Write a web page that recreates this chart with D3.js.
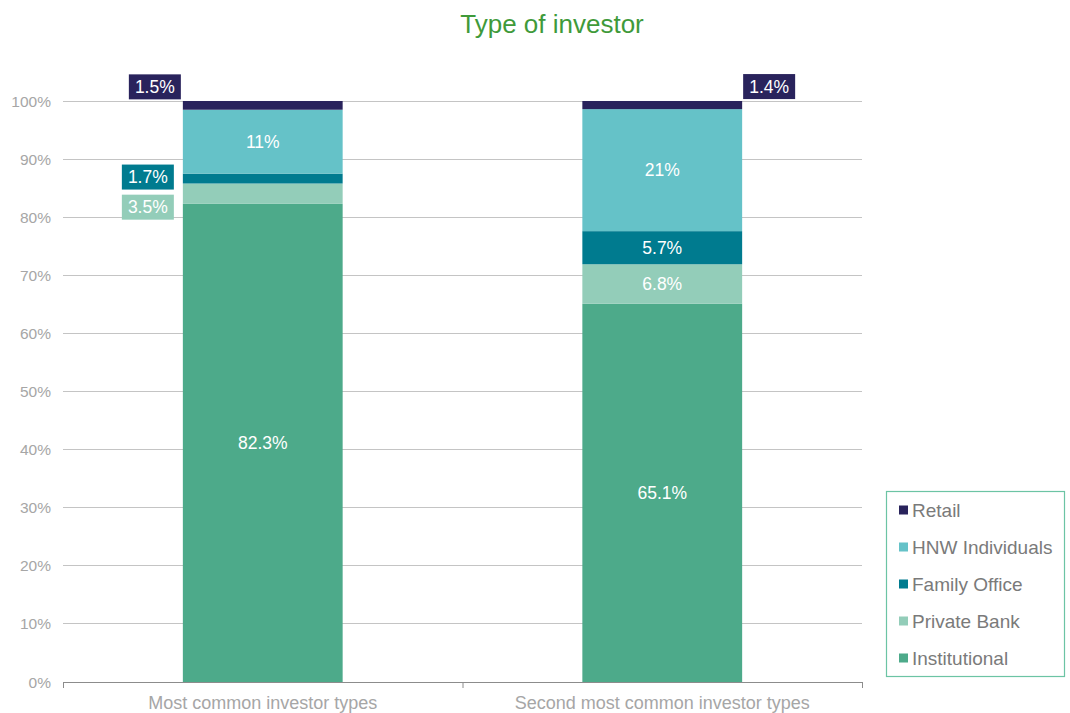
<!DOCTYPE html>
<html>
<head>
<meta charset="utf-8">
<script src="https://cdn.jsdelivr.net/npm/d3@7"></script>
<style>
  html, body { margin: 0; padding: 0; background: #fff; }
  svg { display: block; font-family: "Liberation Sans", Arial, sans-serif; }
</style>
</head>
<body>
<svg id="chart" width="1070" height="713"></svg>
<script>
// Stacked shares of investor types, bottom to top
const categories = ["Most common investor types", "Second most common investor types"];
const seriesNames = ["Institutional", "Private Bank", "Family Office", "HNW Individuals", "Retail"];
const institutional = [82.3, 65.1];
const privateBank = [3.5, 6.8];
const familyOffice = [1.7, 5.7];
const hnwIndividuals = [11, 21];
const retail = [1.5, 1.4];
const labelText = {
  "Institutional": ["82.3%", "65.1%"],
  "Private Bank": ["3.5%", "6.8%"],
  "Family Office": ["1.7%", "5.7%"],
  "HNW Individuals": ["11%", "21%"],
  "Retail": ["1.5%", "1.4%"]
};
const yTicks = [0, 10, 20, 30, 40, 50, 60, 70, 80, 90, 100];
const colors = {
  "Institutional": "#4daa8a",
  "Private Bank": "#93cdb9",
  "Family Office": "#007b8f",
  "HNW Individuals": "#65c2c8",
  "Retail": "#29235c"
};

const rows = categories.map((c, i) => ({
  category: c,
  "Institutional": institutional[i],
  "Private Bank": privateBank[i],
  "Family Office": familyOffice[i],
  "HNW Individuals": hnwIndividuals[i],
  "Retail": retail[i]
}));

const svg = d3.select("#chart");
const margin = { left: 63, right: 862, top: 101, bottom: 682 };

const x = d3.scaleBand()
  .domain(categories)
  .range([margin.left, margin.right])
  .paddingInner(0.6)
  .paddingOuter(0.3);

const y = d3.scaleLinear().domain([0, 100]).range([margin.bottom, margin.top]);

// Title
svg.append("text")
  .attr("x", 552).attr("y", 33)
  .attr("text-anchor", "middle")
  .attr("fill", "#3f9a3a")
  .attr("font-size", 26)
  .text("Type of investor");

// Gridlines
svg.append("g")
  .selectAll("line")
  .data(yTicks.filter(t => t > 0))
  .join("line")
  .attr("x1", margin.left).attr("x2", margin.right)
  .attr("y1", d => y(d)).attr("y2", d => y(d))
  .attr("stroke", "#c4c4c4").attr("stroke-width", 1)
  .attr("shape-rendering", "crispEdges");

// Y axis labels
svg.append("g")
  .selectAll("text")
  .data(yTicks)
  .join("text")
  .attr("x", 51).attr("y", d => y(d) + 5.5)
  .attr("text-anchor", "end")
  .attr("fill", "#a6a6a6")
  .attr("font-size", 15.5)
  .text(d => d + "%");

// Stacked bars
const stack = d3.stack().keys(seriesNames);
const layers = stack(rows);

const barG = svg.append("g");
layers.forEach(layer => {
  barG.selectAll(null)
    .data(layer)
    .join("rect")
    .attr("x", d => x(d.data.category))
    .attr("width", x.bandwidth())
    .attr("y", d => y(d[1]))
    .attr("height", d => y(d[0]) - y(d[1]))
    .attr("fill", colors[layer.key]);
});

// X axis baseline with ticks at band edges
const axisG = svg.append("g");
axisG.append("line")
  .attr("x1", margin.left).attr("x2", margin.right)
  .attr("y1", margin.bottom + 0.5).attr("y2", margin.bottom + 0.5)
  .attr("stroke", "#8c8c8c");
const edges = [margin.left, margin.left + x.step(), margin.right];
axisG.selectAll("line.tick")
  .data(edges)
  .join("line")
  .attr("class", "tick")
  .attr("x1", d => d + 0.5).attr("x2", d => d + 0.5)
  .attr("y1", margin.bottom).attr("y2", margin.bottom + 6)
  .attr("stroke", "#8c8c8c");
axisG.selectAll("text")
  .data(categories)
  .join("text")
  .attr("x", d => x(d) + x.bandwidth() / 2)
  .attr("y", 709)
  .attr("text-anchor", "middle")
  .attr("fill", "#a6a6a6")
  .attr("font-size", 18)
  .text(d => d);

// Labels inside segments large enough
const inside = [];
const callouts = [];
layers.forEach(layer => {
  layer.forEach((d, i) => {
    const item = { key: layer.key, i, d, text: labelText[layer.key][i] };
    if (y(d[0]) - y(d[1]) >= 22) inside.push(item); else callouts.push(item);
  });
});

svg.append("g").selectAll("text")
  .data(inside)
  .join("text")
  .attr("x", o => x(categories[o.i]) + x.bandwidth() / 2)
  .attr("y", o => (y(o.d[0]) + y(o.d[1])) / 2 + 6)
  .attr("text-anchor", "middle")
  .attr("fill", "#ffffff")
  .attr("font-size", 17.5)
  .text(o => o.text);

// Callout boxes for thin segments, placed beside the bar
const calloutOffsets = {
  "Retail": [[-54, -18.5], [0, -18.5]],
  "Family Office": [[-61, -1.5], null],
  "Private Bank": [[-61, 13.5], null]
};
const boxW = 52, boxH = 25;
const cG = svg.append("g");
callouts.forEach(o => {
  const off = calloutOffsets[o.key][o.i];
  const bx = x(categories[o.i]);
  const mid = (y(o.d[0]) + y(o.d[1])) / 2;
  const left = o.i === 0 ? bx + off[0] : bx + x.bandwidth() + 1;
  const cy = mid + off[1];
  cG.append("rect")
    .attr("x", left).attr("y", cy - boxH / 2)
    .attr("width", boxW).attr("height", boxH)
    .attr("fill", colors[o.key]);
  cG.append("text")
    .attr("x", left + boxW / 2).attr("y", cy + 6)
    .attr("text-anchor", "middle")
    .attr("fill", "#ffffff")
    .attr("font-size", 17.5)
    .text(o.text);
});

// Legend
const legend = svg.append("g");
legend.append("rect")
  .attr("x", 886.5).attr("y", 491.5)
  .attr("width", 178).attr("height", 185)
  .attr("fill", "#fff")
  .attr("stroke", "#6cc4a4").attr("stroke-width", 1.2);
const legendOrder = seriesNames.slice().reverse();
legend.selectAll("g.item")
  .data(legendOrder)
  .join("g")
  .attr("class", "item")
  .attr("transform", (d, i) => `translate(899, ${510 + i * 37})`)
  .each(function(d) {
    const g = d3.select(this);
    g.append("rect").attr("x", 0).attr("y", -4.5).attr("width", 9).attr("height", 9).attr("fill", colors[d]);
    g.append("text").attr("x", 13).attr("y", 6.5).attr("fill", "#7a7a7a").attr("font-size", 19).text(d);
  });
</script>
</body>
</html>
